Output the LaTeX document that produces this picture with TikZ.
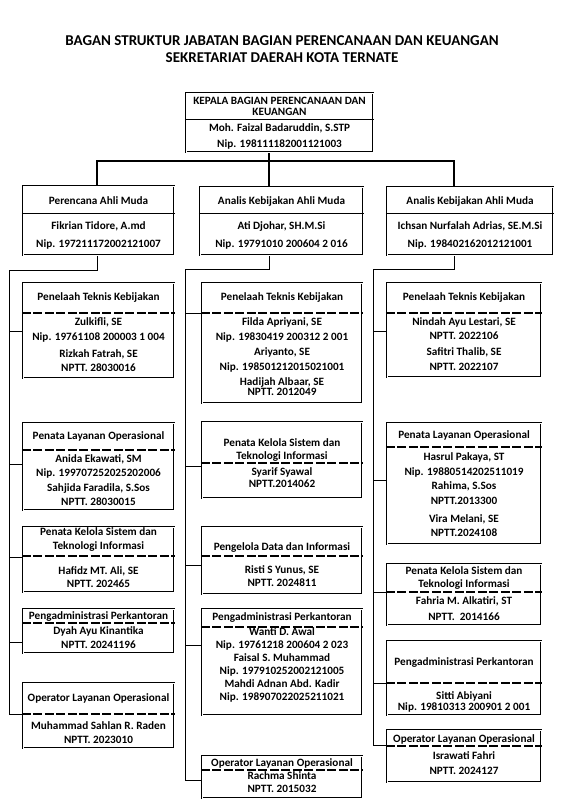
\documentclass[tikz,border=0pt]{standalone}
\usepackage{fontspec}
\setmainfont{Carlito}
\newcommand\tx[4]{\node[txt] (#1) at (#2,#3) {#4};}
\begin{document}
\begin{tikzpicture}[x=1pt,y=-1pt,
  obox/.style={draw=black, line width=2.4pt, inner sep=0pt, postaction={draw=white, line width=0.9pt}},
  txt/.style={font=\bfseries\fontsize{11.2}{12}\selectfont, inner sep=0pt, text height=0.68em, text depth=0.18em},
  ttl/.style={font=\bfseries\fontsize{15}{18}\selectfont, inner sep=0pt},
  dsh/.style={line width=1.5pt, dash pattern=on 9pt off 2.5pt},
  sol/.style={line width=0.6pt},
  conn/.style={line width=0.7pt},
  topconn/.style={line width=1.3pt}]
\useasboundingbox (0,0) rectangle (570,810);

% title
\node[ttl] (t1) at (282,41) {BAGAN STRUKTUR JABATAN BAGIAN PERENCANAAN DAN KEUANGAN};
\node[ttl] (t2) at (282,58) {SEKRETARIAT DAERAH KOTA TERNATE};

% boxes
\node[obox, minimum width=187, minimum height=59] (top) at (279.5,122.5) {};
\node[obox, minimum width=151, minimum height=69] (L0) at (98.5,220.5) {};
\node[obox, minimum width=163, minimum height=68] (M0) at (281.5,221) {};
\node[obox, minimum width=166, minimum height=68] (R0) at (470,221) {};

\node[obox, minimum width=151, minimum height=95] (L1) at (98.5,330.5) {};
\node[obox, minimum width=151, minimum height=87] (L2) at (98.5,466.5) {};
\node[obox, minimum width=151, minimum height=65] (L3) at (98.5,559.5) {};
\node[obox, minimum width=151, minimum height=44] (L4) at (98.5,631) {};
\node[obox, minimum width=151, minimum height=65] (L5) at (98.5,715.5) {};

\node[obox, minimum width=160, minimum height=120] (M1) at (282,343) {};
\node[obox, minimum width=160, minimum height=76] (M2) at (282,460) {};
\node[obox, minimum width=160, minimum height=67] (M3) at (282,560.5) {};
\node[obox, minimum width=160, minimum height=106] (M4) at (282,662) {};
\node[obox, minimum width=160, minimum height=42] (M5) at (282,777) {};

\node[obox, minimum width=154, minimum height=94] (R1) at (464,330) {};
\node[obox, minimum width=154, minimum height=121] (R2) at (464,483.5) {};
\node[obox, minimum width=154, minimum height=61] (R3) at (464,594.5) {};
\node[obox, minimum width=154, minimum height=74] (R4) at (464,678) {};
\node[obox, minimum width=154, minimum height=52] (R5) at (464,756) {};

% solid dividers
\draw[sol] (top.west |- 0,119) -- (top.east |- 0,119);
\draw[sol] (L0.west |- 0,213) -- (L0.east |- 0,213);
\draw[sol] (M0.west |- 0,213) -- (M0.east |- 0,213);
\draw[sol] (R0.west |- 0,213) -- (R0.east |- 0,213);

% dashed dividers
\draw[dsh] (L1.west |- 0,313) -- (L1.east |- 0,313);
\draw[dsh] (L2.west |- 0,450) -- (L2.east |- 0,450);
\draw[dsh] (L3.west |- 0,556) -- (L3.east |- 0,556);
\draw[dsh] (L4.west |- 0,623) -- (L4.east |- 0,623);
\draw[dsh] (L5.west |- 0,714) -- (L5.east |- 0,714);
\draw[dsh] (M1.west |- 0,313) -- (M1.east |- 0,313);
\draw[dsh] (M2.west |- 0,463) -- (M2.east |- 0,463);
\draw[dsh] (M3.west |- 0,556) -- (M3.east |- 0,556);
\draw[dsh] (M4.west |- 0,627) -- (M4.east |- 0,627);
\draw[dsh] (M5.west |- 0,770) -- (M5.east |- 0,770);
\draw[dsh] (R1.west |- 0,313) -- (R1.east |- 0,313);
\draw[dsh] (R2.west |- 0,447) -- (R2.east |- 0,447);
\draw[dsh] (R3.west |- 0,592) -- (R3.east |- 0,592);
\draw[dsh] (R4.west |- 0,683) -- (R4.east |- 0,683);
\draw[dsh] (R5.west |- 0,746) -- (R5.east |- 0,746);

% top connectors
\coordinate (tc) at (269,161);
\coordinate (hl) at (97,161);
\coordinate (hr) at (454,161);
\draw[topconn] (top.south -| tc) -- (tc);
\draw[topconn] (L0.north -| hl) -- (hl) -- (hr) -- (R0.north -| hr);
\draw[topconn] (tc) -- (M0.north -| tc);

% spines
\coordinate (sL) at (9,270);
\coordinate (sM) at (185,269);
\coordinate (sR) at (373,269);
\draw[conn] (L0.south -| hl) -- (hl |- sL) -- (sL) -- (9,714);
\draw[conn] (M0.south -| tc) -- (tc |- sM) -- (sM) -- (185,780);
\draw[conn] (R0.south -| hr) -- (hr |- sR) -- (sR) -- (373,745);

% branches
\draw[conn] (sL |- 0,331) -- (L1.west |- 0,331);
\draw[conn] (sL |- 0,464) -- (L2.west |- 0,464);
\draw[conn] (sL |- 0,557) -- (L3.west |- 0,557);
\draw[conn] (sL |- 0,642) -- (L4.west |- 0,642);
\draw[conn] (sL |- 0,714) -- (L5.west |- 0,714);
\draw[conn] (sM |- 0,313) -- (M1.west |- 0,313);
\draw[conn] (sM |- 0,466) -- (M2.west |- 0,466);
\draw[conn] (sM |- 0,565) -- (M3.west |- 0,565);
\draw[conn] (sM |- 0,645) -- (M4.west |- 0,645);
\draw[conn] (sM |- 0,780) -- (M5.west |- 0,780);
\draw[conn] (sR |- 0,331) -- (R1.west |- 0,331);
\draw[conn] (sR |- 0,480) -- (R2.west |- 0,480);
\draw[conn] (sR |- 0,592) -- (R3.west |- 0,592);
\draw[conn] (sR |- 0,683) -- (R4.west |- 0,683);
\draw[conn] (sR |- 0,745) -- (R5.west |- 0,745);

% texts: top
\tx{ta}{279.5}{102}{KEPALA BAGIAN PERENCANAAN DAN}
\tx{tb}{279.5}{113}{KEUANGAN}
\tx{tcn}{279.5}{129}{Moh. Faizal Badaruddin, S.STP}
\tx{td}{279.5}{145}{Nip. 198111182001121003}
% heads
\tx{l0a}{98.5}{202}{Perencana Ahli Muda}
\tx{l0b}{98.5}{227}{Fikrian Tidore, A.md}
\tx{l0c}{98.5}{245}{Nip. 197211172002121007}
\tx{m0a}{281.5}{202}{Analis Kebijakan Ahli Muda}
\tx{m0b}{281.5}{227}{Ati Djohar, SH.M.Si}
\tx{m0c}{281.5}{245}{Nip. 19791010 200604 2 016}
\tx{r0a}{470}{202}{Analis Kebijakan Ahli Muda}
\tx{r0b}{470}{227}{Ichsan Nurfalah Adrias, SE.M.Si}
\tx{r0c}{470}{245}{Nip. 198402162012121001}
% left column
\tx{l1a}{98.5}{298}{Penelaah Teknis Kebijakan}
\tx{l1b}{98.5}{323}{Zulkifli, SE}
\tx{l1c}{98.5}{338}{Nip. 19761108 200003 1 004}
\tx{l1d}{98.5}{355}{Rizkah Fatrah, SE}
\tx{l1e}{98.5}{369}{NPTT. 28030016}
\tx{l2a}{98.5}{437}{Penata Layanan Operasional}
\tx{l2b}{98.5}{460}{Anida Ekawati, SM}
\tx{l2c}{98.5}{474}{Nip. 199707252025202006}
\tx{l2d}{98.5}{489}{Sahjida Faradila, S.Sos}
\tx{l2e}{98.5}{503}{NPTT. 28030015}
\tx{l3a}{98.5}{533}{Penata Kelola Sistem dan}
\tx{l3b}{98.5}{547}{Teknologi Informasi}
\tx{l3c}{98.5}{572}{Hafidz MT. Ali, SE}
\tx{l3d}{98.5}{585}{NPTT. 202465}
\tx{l4a}{98.5}{617}{Pengadministrasi Perkantoran}
\tx{l4b}{98.5}{632}{Dyah Ayu Kinantika}
\tx{l4c}{98.5}{646}{NPTT. 20241196}
\tx{l5a}{98.5}{699}{Operator Layanan Operasional}
\tx{l5b}{98.5}{727}{Muhammad Sahlan R. Raden}
\tx{l5c}{98.5}{741}{NPTT. 2023010}
% middle column
\tx{m1a}{282}{298}{Penelaah Teknis Kebijakan}
\tx{m1b}{282}{323}{Filda Apriyani, SE}
\tx{m1c}{282}{338}{Nip. 19830419 200312 2 001}
\tx{m1d}{282}{353}{Ariyanto, SE}
\tx{m1e}{282}{368}{Nip. 198501212015021001}
\tx{m1f}{282}{383}{Hadijah Albaar, SE}
\tx{m1g}{282}{393}{NPTT. 2012049}
\tx{m2a}{282}{444}{Penata Kelola Sistem dan}
\tx{m2b}{282}{457}{Teknologi Informasi}
\tx{m2c}{282}{473}{Syarif Syawal}
\tx{m2d}{282}{485}{NPTT.2014062}
\tx{m3a}{282}{548}{Pengelola Data dan Informasi}
\tx{m3b}{282}{571}{Risti S Yunus, SE}
\tx{m3c}{282}{584}{NPTT. 2024811}
\tx{m4a}{282}{618}{Pengadministrasi Perkantoran}
\tx{m4b}{282}{633}{Wanti D. Awal}
\tx{m4c}{282}{646}{Nip. 19761218 200604 2 023}
\tx{m4d}{282}{659}{Faisal S. Muhammad}
\tx{m4e}{282}{672}{Nip. 197910252002121005}
\tx{m4f}{282}{685}{Mahdi Adnan Abd. Kadir}
\tx{m4g}{282}{698}{Nip. 198907022025211021}
\tx{m5a}{282}{764}{Operator Layanan Operasional}
\tx{m5b}{282}{777}{Rachma Shinta}
\tx{m5c}{282}{790}{NPTT. 2015032}
% right column
\tx{r1a}{464}{298}{Penelaah Teknis Kebijakan}
\tx{r1b}{464}{323}{Nindah Ayu Lestari, SE}
\tx{r1c}{464}{337}{NPTT. 2022106}
\tx{r1d}{464}{353}{Safitri Thalib, SE}
\tx{r1e}{464}{368}{NPTT. 2022107}
\tx{r2a}{464}{436}{Penata Layanan Operasional}
\tx{r2b}{464}{458}{Hasrul Pakaya, ST}
\tx{r2c}{464}{473}{Nip. 19880514202511019}
\tx{r2d}{464}{487}{Rahima, S.Sos}
\tx{r2e}{464}{502}{NPTT.2013300}
\tx{r2f}{464}{520}{Vira Melani, SE}
\tx{r2g}{464}{534}{NPTT.2024108}
\tx{r3a}{464}{572}{Penata Kelola Sistem dan}
\tx{r3b}{464}{585}{Teknologi Informasi}
\tx{r3c}{464}{602}{Fahria M. Alkatiri, ST}
\tx{r3d}{464}{618}{NPTT.\ \ 2014166}
\tx{r4a}{464}{663}{Pengadministrasi Perkantoran}
\tx{r4b}{464}{697}{Sitti Abiyani}
\tx{r4c}{464}{708}{Nip. 19810313 200901 2 001}
\tx{r5a}{464}{740}{Operator Layanan Operasional}
\tx{r5b}{464}{757}{Israwati Fahri}
\tx{r5c}{464}{772}{NPTT. 2024127}
\end{tikzpicture}
\end{document}
